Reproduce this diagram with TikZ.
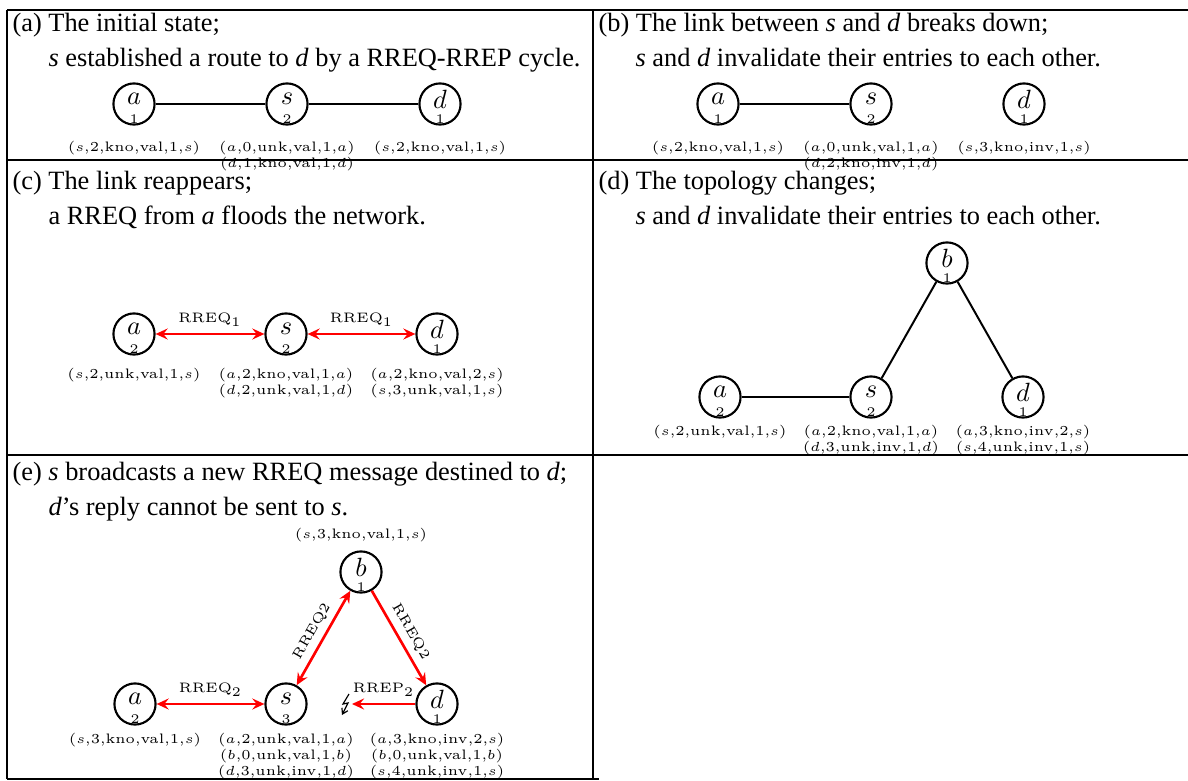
\documentclass[tikz,border=0pt]{standalone}
\usepackage{fontspec}
\newfontfamily\capfont{Liberation Serif}
\usetikzlibrary{arrows.meta,shapes.geometric,calc}
\newcommand\mknode[4]{%
  \node[nd] (#1) at (#2) {};
  \node[lett] (#1l) at ([yshift=1.9pt]#1.center) {$#3$};
  \node[numb] (#1n) at ([yshift=0.5pt]#1.south) {#4};}
\tikzset{
  frameline/.style={line width=0.75pt},
  nd/.style={draw, ellipse, line width=0.8pt, minimum width=15.6pt, minimum height=15.6pt, inner sep=0pt},
  lett/.style={inner sep=0pt, font=\normalsize},
  numb/.style={inner sep=0pt, anchor=south, font=\fontsize{5}{6}\selectfont},
  tup/.style={inner sep=0pt, anchor=north, align=center, font=\fontsize{5.2}{6}\selectfont},
  captxt/.style={inner sep=0pt, anchor=base west, font=\capfont\fontsize{10}{12}\selectfont},
  linkline/.style={line width=0.75pt},
  mtip/.tip={Stealth[length=4.6pt,width=4.2pt,inset=1.7pt]},
  msg/.style={red, line width=1pt, mtip-mtip},
  msgone/.style={red, line width=1pt, -mtip},
  msglab/.style={inner sep=2.2pt, text=black, font=\fontsize{5.2}{6}\selectfont},
}
\begin{document}
\begin{tikzpicture}[x=0.379pt,y=-0.379pt]
\useasboundingbox (0,0) rectangle (1188,781);
% frame
\draw[frameline] (7,10) -- (1188,10);
\draw[frameline] (7,160) -- (1188,160);
\draw[frameline] (7,455) -- (1188,455);
\draw[frameline] (7,779) -- (599,779);
\draw[frameline] (7,10) -- (7,779);
\draw[frameline] (593,10) -- (593,779);
% captions
\node[captxt] (ca1) at (12,32) {(a) The initial state;};
\node[captxt] (ca2) at (48,67) {\textit{s} established a route to \textit{d} by a RREQ-RREP cycle.};
\node[captxt] (cb1) at (598,32) {(b) The link between \textit{s} and \textit{d} breaks down;};
\node[captxt] (cb2) at (635,67) {\textit{s} and \textit{d} invalidate their entries to each other.};
\node[captxt] (cc1) at (12,190) {(c) The link reappears;};
\node[captxt] (cc2) at (48,225) {a RREQ from \textit{a} floods the network.};
\node[captxt] (cd1) at (598,190) {(d) The topology changes;};
\node[captxt] (cd2) at (635,225) {\textit{s} and \textit{d} invalidate their entries to each other.};
\node[captxt] (ce1) at (12,480) {(e) \textit{s} broadcasts a new RREQ message destined to \textit{d};};
\node[captxt] (ce2) at (48,515) {\textit{d}’s reply cannot be sent to \textit{s}.};
% (a)
\mknode{Aa}{134,104}{a}{1}
\mknode{As}{287,104}{s}{2}
\mknode{Ad}{440,104}{d}{1}
\draw[linkline] (Aa) -- (As);
\draw[linkline] (As) -- (Ad);
\node[tup] (Aat) at (134,141) {($s$,2,kno,val,1,$s$)};
\node[tup] (Ast) at (287,141) {($a$,0,unk,val,1,$a$)\\($d$,1,kno,val,1,$d$)};
\node[tup] (Adt) at (440,141) {($s$,2,kno,val,1,$s$)};
% (b)
\mknode{Ba}{718,104}{a}{1}
\mknode{Bs}{871,104}{s}{2}
\mknode{Bd}{1024,104}{d}{1}
\draw[linkline] (Ba) -- (Bs);
\node[tup] (Bat) at (718,141) {($s$,2,kno,val,1,$s$)};
\node[tup] (Bst) at (871,141) {($a$,0,unk,val,1,$a$)\\($d$,2,kno,inv,1,$d$)};
\node[tup] (Bdt) at (1024,141) {($s$,3,kno,inv,1,$s$)};
% (c)
\mknode{Ca}{134,334}{a}{2}
\mknode{Cs}{286,334}{s}{2}
\mknode{Cd}{437,334}{d}{1}
\draw[msg] (Ca) -- node[msglab, above] (Cl1) {RREQ$_1$} (Cs);
\draw[msg] (Cs) -- node[msglab, above] (Cl2) {RREQ$_1$} (Cd);
\node[tup] (Cat) at (134,368) {($s$,2,unk,val,1,$s$)};
\node[tup] (Cst) at (286,368) {($a$,2,kno,val,1,$a$)\\($d$,2,unk,val,1,$d$)};
\node[tup] (Cdt) at (437,368) {($a$,2,kno,val,2,$s$)\\($s$,3,unk,val,1,$s$)};
% (d)
\mknode{Db}{947,263}{b}{1}
\mknode{Da}{720,397}{a}{2}
\mknode{Ds}{871,397}{s}{2}
\mknode{Dd}{1023,397}{d}{1}
\draw[linkline, line width=1.1pt] (Da) -- (Ds);
\draw[linkline] (Ds) -- (Db);
\draw[linkline] (Db) -- (Dd);
\node[tup] (Dat) at (720,425) {($s$,2,unk,val,1,$s$)};
\node[tup] (Dst) at (871,425) {($a$,2,kno,val,1,$a$)\\($d$,3,unk,inv,1,$d$)};
\node[tup] (Ddt) at (1023,425) {($a$,3,kno,inv,2,$s$)\\($s$,4,unk,inv,1,$s$)};
% (e)
\mknode{Eb}{361,572}{b}{1}
\mknode{Ea}{135,704}{a}{2}
\mknode{Es}{286,704}{s}{3}
\mknode{Ed}{437,704}{d}{1}
\coordinate (Ez) at (352,704);
\draw[msg] (Ea) -- node[msglab, above] (El1) {RREQ$_2$} (Es);
\draw[msg] (Es) -- node[msglab, above, sloped] (El2) {RREQ2} (Eb);
\draw[msgone] (Eb) -- node[msglab, above, sloped] (El3) {RREQ2} (Ed);
\draw[msgone] (Ed) -- node[msglab, above] (El4) {RREP$_2$} (Ez);
\coordinate (Ez1) at (349,694);
\coordinate (Ez2) at (343,704);
\coordinate (Ez3) at (348,703);
\coordinate (Ez4) at (342,715);
\draw[line width=0.45pt, -{Straight Barb[length=2pt,width=2.5pt]}] (Ez1) -- (Ez2) -- (Ez3) -- (Ez4);
\node[tup] (Ebt) at (361,528) {($s$,3,kno,val,1,$s$)};
\node[tup] (Eat) at (135,733) {($s$,3,kno,val,1,$s$)};
\node[tup] (Est) at (286,733) {($a$,2,unk,val,1,$a$)\\($b$,0,unk,val,1,$b$)\\($d$,3,unk,inv,1,$d$)};
\node[tup] (Edt) at (437,733) {($a$,3,kno,inv,2,$s$)\\($b$,0,unk,val,1,$b$)\\($s$,4,unk,inv,1,$s$)};
\end{tikzpicture}
\end{document}
